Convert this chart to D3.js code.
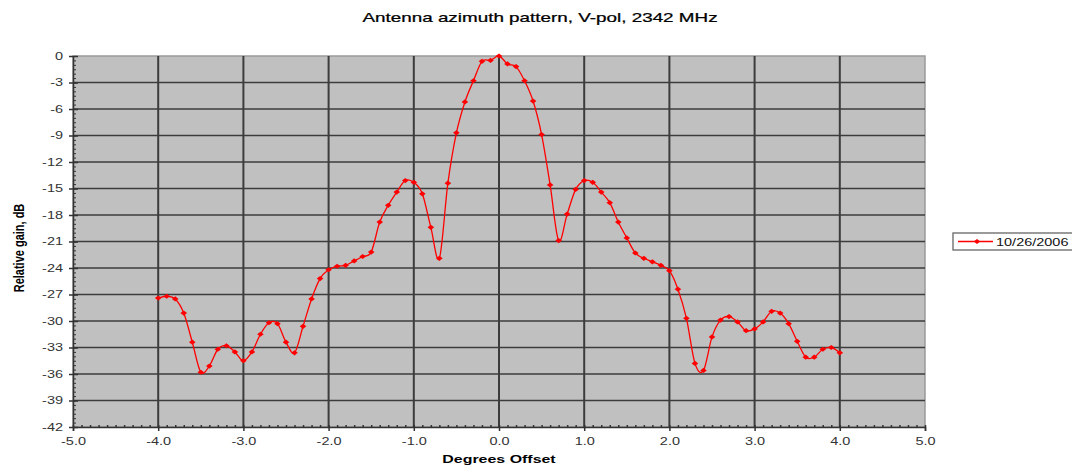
<!DOCTYPE html>
<html>
<head>
<meta charset="utf-8">
<script src="https://cdn.jsdelivr.net/npm/d3@7"></script>
<style>
  html, body { margin: 0; padding: 0; background: #fff; overflow: hidden; }
  svg { display: block; font-family: Arial, "Liberation Sans", sans-serif; }
</style>
</head>
<body>
<svg id="chart" width="1072" height="476"></svg>
<script>
// data
const degrees = [
  -4.0, -3.9, -3.8, -3.7, -3.6, -3.5, -3.4, -3.3, -3.2, -3.1,
  -3.0, -2.9, -2.8, -2.7, -2.6, -2.5, -2.4, -2.3, -2.2, -2.1,
  -2.0, -1.9, -1.8, -1.7, -1.6, -1.5, -1.4, -1.3, -1.2, -1.1,
  -1.0, -0.9, -0.8, -0.7, -0.6, -0.5, -0.4, -0.3, -0.2, -0.1,
   0.0,  0.1,  0.2,  0.3,  0.4,  0.5,  0.6,  0.7,  0.8,  0.9,
   1.0,  1.1,  1.2,  1.3,  1.4,  1.5,  1.6,  1.7,  1.8,  1.9,
   2.0,  2.1,  2.2,  2.3,  2.4,  2.5,  2.6,  2.7,  2.8,  2.9,
   3.0,  3.1,  3.2,  3.3,  3.4,  3.5,  3.6,  3.7,  3.8,  3.9,
   4.0
];
const gain = [
  -27.4, -27.2, -27.5, -29.1, -32.4, -35.8, -35.1, -33.2, -32.8, -33.5,
  -34.5, -33.5, -31.5, -30.2, -30.3, -32.4, -33.6, -30.6, -27.5, -25.2,
  -24.2, -23.8, -23.7, -23.2, -22.7, -22.2, -18.8, -16.9, -15.4, -14.1,
  -14.3, -15.6, -19.4, -22.9, -14.4,  -8.7,  -5.2,  -2.8,  -0.6,  -0.5,
    0.0,  -0.9,  -1.2,  -2.8,  -5.1,  -8.9, -14.6, -20.9, -17.9, -15.1,
  -14.1, -14.3, -15.4, -16.6, -18.8, -20.6, -22.3, -22.9, -23.3, -23.7,
  -24.3, -26.4, -29.7, -34.8, -35.6, -31.8, -29.9, -29.5, -30.1, -31.1,
  -30.9, -30.1, -28.9, -29.1, -30.3, -32.3, -34.1, -34.1, -33.2, -33.0,
  -33.6
];
const xTicks = [-5, -4, -3, -2, -1, 0, 1, 2, 3, 4, 5];
const yTicks = [0, -3, -6, -9, -12, -15, -18, -21, -24, -27, -30, -33, -36, -39, -42];
const seriesName = "10/26/2006";
const title = "Antenna azimuth pattern, V-pol, 2342 MHz";
const xLabel = "Degrees Offset";
const yLabel = "Relative gain, dB";

const SX = 1.45; // the reference text is stretched sideways

const svg = d3.select("#chart");
const plot = { left: 73, right: 925, top: 56, bottom: 427 };

const x = d3.scaleLinear().domain([-5, 5]).range([plot.left, plot.right]);
const y = d3.scaleLinear().domain([-42, 0]).range([plot.bottom, plot.top]);

const hyphen = f => d => f(d).replace("\u2212", "-");

// plot background
svg.append("rect")
  .attr("x", plot.left).attr("y", plot.top)
  .attr("width", plot.right - plot.left).attr("height", plot.bottom - plot.top)
  .attr("fill", "#c0c0c0")
  .attr("stroke", "#9a9a9a").attr("stroke-width", 1.5);

// grid lines
svg.append("g")
  .selectAll("line")
  .data(yTicks.filter(d => d !== 0 && d !== -42))
  .join("line")
  .attr("x1", plot.left).attr("x2", plot.right)
  .attr("y1", d => y(d)).attr("y2", d => y(d))
  .attr("stroke", "#3c3c3c").attr("stroke-width", 1.6);

svg.append("g")
  .selectAll("line")
  .data(xTicks.filter(d => d !== -5 && d !== 5))
  .join("line")
  .attr("x1", d => x(d)).attr("x2", d => x(d))
  .attr("y1", plot.top).attr("y2", plot.bottom)
  .attr("stroke", "#3c3c3c").attr("stroke-width", 2);

// minor ticks (drawn inside the plot)
const yMinor = d3.range(-42, 0.01, 0.5);
svg.append("g")
  .attr("transform", `translate(${plot.left},0)`)
  .call(d3.axisRight(y).tickValues(yMinor).tickSize(3).tickFormat(""))
  .call(g => g.select(".domain").remove())
  .call(g => g.selectAll("line").attr("stroke", "#333").attr("stroke-width", 1));

const xMinor = d3.range(-50, 51).map(i => i / 10);
svg.append("g")
  .attr("transform", `translate(0,${plot.bottom})`)
  .call(d3.axisTop(x).tickValues(xMinor).tickSize(2).tickFormat(""))
  .call(g => g.select(".domain").remove())
  .call(g => g.selectAll("line").attr("stroke", "#333").attr("stroke-width", 1.5));

// main axes
const yAxis = svg.append("g")
  .attr("transform", `translate(${plot.left},0)`)
  .call(d3.axisLeft(y).tickValues(yTicks).tickSize(0).tickFormat(hyphen(d3.format("d"))));
yAxis.select(".domain").attr("stroke", "#333").attr("stroke-width", 1.5);
yAxis.selectAll(".tick line").remove();
yAxis.selectAll(".tick").append("line")
  .attr("x1", -4).attr("x2", 5).attr("stroke", "#333").attr("stroke-width", 1.5);
yAxis.selectAll(".tick text")
  .attr("x", -10 / SX)
  .attr("transform", `scale(${SX},1)`)
  .attr("font-size", 10).attr("fill", "#333");

const xAxis = svg.append("g")
  .attr("transform", `translate(0,${plot.bottom})`)
  .call(d3.axisBottom(x).tickValues(xTicks).tickSize(4).tickPadding(7).tickFormat(hyphen(d3.format(".1f"))));
xAxis.select(".domain").attr("stroke", "#333").attr("stroke-width", 1.5);
xAxis.selectAll(".tick line").attr("stroke", "#333").attr("stroke-width", 1.5);
xAxis.selectAll(".tick text")
  .attr("transform", `scale(${SX},1)`)
  .attr("font-size", 10).attr("fill", "#333");

// series
const points = degrees.map((d, i) => ({ x: d, y: gain[i] }));
const line = d3.line()
  .x(d => x(d.x)).y(d => y(d.y))
  .curve(d3.curveCardinal.tension(0));

svg.append("path")
  .datum(points)
  .attr("d", line)
  .attr("fill", "none")
  .attr("stroke", "#ff0000")
  .attr("stroke-width", 1.3);

const diamond = "M0,-2.6L3.3,0L0,2.6L-3.3,0Z";
svg.append("g")
  .selectAll("path")
  .data(points)
  .join("path")
  .attr("d", diamond)
  .attr("transform", d => `translate(${x(d.x)},${y(d.y)})`)
  .attr("fill", "#ff0000");

// titles
function stretchedText(px, py, txt, size, weight, anchor) {
  return svg.append("text")
    .attr("transform", `translate(${px},${py}) scale(${SX},1)`)
    .attr("text-anchor", anchor)
    .attr("font-size", size)
    .attr("font-weight", weight)
    .attr("fill", "#000")
    .text(txt);
}

stretchedText(540, 22, title, 13, "normal", "middle")
  .attr("stroke", "#000").attr("stroke-width", 0.25);
stretchedText(499, 463, xLabel, 11, "bold", "middle");

svg.append("text")
  .attr("transform", `translate(24,248) scale(1.3,1) rotate(-90)`)
  .attr("text-anchor", "middle")
  .attr("font-size", 11)
  .attr("font-weight", "bold")
  .attr("fill", "#000")
  .text(yLabel);

// legend (its box runs off the right edge, as in the reference)
const legend = svg.append("g").attr("transform", "translate(953,233)");
legend.append("rect")
  .attr("width", 140).attr("height", 17)
  .attr("fill", "#fff").attr("stroke", "#666").attr("stroke-width", 1.3);
legend.append("line")
  .attr("x1", 5).attr("x2", 40).attr("y1", 8.5).attr("y2", 8.5)
  .attr("stroke", "#ff0000").attr("stroke-width", 1.3);
legend.append("path")
  .attr("d", diamond)
  .attr("transform", "translate(24,8.5)")
  .attr("fill", "#ff0000");
legend.append("text")
  .attr("transform", `translate(43,12.5) scale(${SX},1)`)
  .attr("font-size", 10)
  .attr("fill", "#111")
  .text(seriesName);
</script>
</body>
</html>
